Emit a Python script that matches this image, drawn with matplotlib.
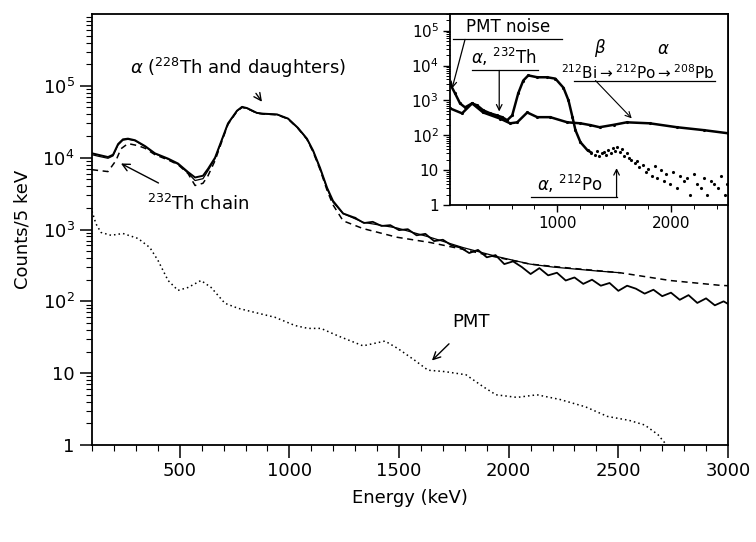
import matplotlib
matplotlib.use("Agg")
import matplotlib.pyplot as plt
from matplotlib.ticker import FixedLocator, LogLocator, MultipleLocator, NullFormatter
import numpy as np

plt.rcParams['font.family'] = ['DejaVu Sans']
plt.rcParams['mathtext.fontset'] = 'dejavusans'

# ---- main spectra (energy keV, counts / 5 keV) ----
meas_e = [100, 127, 173, 196, 219, 241, 264, 296, 342, 387, 447, 492, 538, 570, 606, 629,
          661, 688, 720, 761, 784, 807, 852, 880, 944, 994, 1039, 1080, 1108, 1140, 1172,
          1199, 1245, 1300]
meas_v = [11500, 11000, 10200, 11000, 15500, 18000, 18400, 17500, 14500, 11500, 9700,
          8300, 6300, 5300, 5600, 7000, 10000, 16500, 30000, 45000, 51000, 49000, 42000,
          41000, 40000, 35000, 26000, 18400, 12600, 7200, 3800, 2500, 1670, 1450]

# noisy tail of the measured spectrum
tail_e = [1300, 1340, 1380, 1420, 1460, 1500, 1540, 1580, 1620, 1660, 1700, 1740, 1780,
          1820, 1860, 1900, 1940, 1980, 2020, 2060, 2100, 2140, 2180, 2220, 2260, 2300,
          2340, 2380, 2420, 2460, 2500, 2540, 2580, 2620, 2660, 2700, 2740, 2780, 2820,
          2860, 2900, 2940, 2980, 3000]
tail_v = [1450, 1230, 1280, 1120, 1150, 980, 1010, 830, 870, 690, 720, 600, 560, 470, 520,
          410, 440, 330, 360, 300, 240, 290, 230, 250, 195, 215, 175, 200, 165, 180, 140,
          165, 150, 128, 145, 118, 132, 105, 122, 95, 110, 88, 100, 92]

sim_e = [100, 127, 173, 196, 219, 241, 264, 296, 342, 387, 447, 492, 538, 570, 606, 629,
         661, 688, 720, 761, 784, 807, 852, 880, 944, 994, 1039, 1080, 1108, 1140, 1172,
         1199, 1245, 1336, 1491, 1641, 1792, 1947, 2097, 2202, 2400, 2508]
sim_v = [11000, 10500, 9800, 10600, 15000, 17500, 18000, 17200, 14200, 11300, 9500, 8100,
         6100, 4800, 5100, 6600, 9700, 16200, 29500, 44500, 50500, 48500, 41800, 40800,
         39800, 34800, 25800, 18200, 12400, 7000, 3700, 2400, 1670, 1260, 1050, 780, 560,
         420, 330, 300, 265, 250]

dash_e = [100, 173, 209, 232, 264, 310, 342, 387, 447, 492, 538, 570, 606, 629, 661, 688,
          720, 761, 784, 807, 852, 880, 944, 994, 1039, 1080, 1108, 1140, 1172, 1199, 1245,
          1336, 1491, 1641, 1792, 1947, 2097, 2280, 2508, 2736, 2964, 3000]
dash_v = [6800, 6400, 9100, 13300, 15700, 14700, 13500, 11000, 9300, 8000, 6000, 4100,
          4400, 5600, 9100, 15500, 29000, 44000, 50000, 48500, 41500, 40500, 39500, 34500,
          25500, 18000, 12000, 6800, 3500, 2200, 1320, 1030, 780, 660, 530, 410, 330, 290,
          250, 195, 167, 165]

pmt_e = [100, 118, 141, 187, 241, 310, 364, 401, 447, 492, 538, 597, 643, 706, 766, 843,
         934, 1026, 1085, 1144, 1222, 1336, 1436, 1495, 1573, 1632, 1710, 1805, 1883, 1942,
         2038, 2129, 2234, 2350, 2450, 2550, 2620, 2680, 2720]
pmt_v = [1800, 1200, 910, 830, 880, 750, 560, 370, 195, 142, 156, 195, 156, 94, 80, 70,
         60, 46, 42, 42, 33, 24, 28, 22, 15, 11, 10.5, 9.5, 6.5, 5.0, 4.6, 5.0, 4.3, 3.4,
         2.5, 2.2, 1.9, 1.4, 1.0]

# ---- inset spectra ----
ina_e = [60, 104, 148, 192, 254, 298, 351, 413, 474, 518, 562, 606, 659, 703, 747, 826,
         914, 985, 1056, 1100, 1135, 1161, 1205, 1267, 1300]
ina_v = [3000, 1600, 820, 630, 820, 720, 520, 425, 370, 330, 270, 370, 1600, 3700, 5200,
         4600, 4600, 4200, 2300, 1000, 330, 140, 63, 37, 32]

ina_tail_e = [1330, 1350, 1370, 1390, 1410, 1430, 1450, 1470, 1490, 1510, 1530, 1550, 1570,
              1590, 1610, 1630, 1650, 1680, 1700, 1720, 1750, 1780, 1800, 1830, 1860,
              1880, 1910, 1940, 1960, 1990, 2020, 2050, 2080, 2110, 2140, 2170, 2200,
              2230, 2260, 2290, 2320, 2350, 2380, 2410, 2440, 2470, 2490]
ina_tail_v = [28, 35, 25, 30, 34, 27, 38, 31, 42, 36, 45, 33, 40, 26, 30, 22, 20, 16, 18,
              12, 14, 9, 11, 7, 13, 6, 10, 5, 8, 4, 9, 3, 7, 5, 6, 2, 8, 4, 3, 6, 2, 5, 4,
              3, 7, 2, 4]

inb_e = [60, 166, 254, 351, 500, 588, 650, 738, 826, 940, 1090, 1205, 1293, 1373, 1500,
         1611, 1813, 2051, 2289, 2500]
inb_v = [590, 425, 820, 450, 300, 220, 235, 450, 330, 330, 235, 220, 195, 170, 200, 235,
         220, 170, 140, 114]

main_yticks = [1, 10, 100, 1e3, 1e4, 1e5]
main_ylabels = ['1', '10', r'$10^2$', r'$10^3$', r'$10^4$', r'$10^5$']

fig = plt.figure(figsize=(7.56, 5.42), dpi=100)
ax = fig.add_axes([92 / 756, 1 - 445 / 542, (728 - 92) / 756, (445 - 14) / 542])

ax.plot(dash_e, dash_v, color='k', lw=1.1, ls=(0, (4, 3)))
ax.plot(sim_e, sim_v, color='k', lw=0.9)
ax.plot(meas_e, meas_v, color='k', lw=1.4)
ax.plot(tail_e, tail_v, color='k', lw=1.3)
ax.plot(pmt_e, pmt_v, color='k', lw=1.1, ls=(0, (1, 2)))

ax.set_yscale('log')
ax.set_xlim(100, 3000)
ax.set_ylim(1, 1e6)
ax.xaxis.set_major_locator(MultipleLocator(500))
ax.xaxis.set_minor_locator(MultipleLocator(100))
ax.yaxis.set_major_locator(FixedLocator(main_yticks))
ax.set_yticklabels(main_ylabels)
ax.yaxis.set_minor_locator(LogLocator(base=10, subs=np.arange(2, 10), numticks=20))
ax.yaxis.set_minor_formatter(NullFormatter())
ax.tick_params(which='both', direction='out', top=False, right=False, labelsize=13)
ax.tick_params(which='major', length=9, width=1.1)
ax.tick_params(which='minor', length=4, width=0.8)
for s in ax.spines.values():
    s.set_linewidth(1.3)
ax.set_xlabel('Energy (keV)', fontsize=13, labelpad=6)
ax.set_ylabel('Counts/5 keV', fontsize=13, labelpad=8)

ax.annotate(r'$\alpha$ ($^{228}$Th and daughters)', xy=(875, 6e4), xytext=(766, 1.75e5),
            ha='center', va='center', fontsize=13,
            arrowprops=dict(arrowstyle='->', color='k', lw=1, shrinkA=9, shrinkB=0))
ax.annotate(r'$^{232}$Th chain', xy=(232, 8300), xytext=(583, 2300),
            ha='center', va='center', fontsize=13,
            arrowprops=dict(arrowstyle='->', color='k', lw=1, shrinkA=12, shrinkB=0))
ax.annotate('PMT', xy=(1650, 15), xytext=(1828, 51),
            ha='center', va='center', fontsize=13,
            arrowprops=dict(arrowstyle='->', color='k', lw=1, shrinkA=10, shrinkB=0))

# ---- inset ----
ins = fig.add_axes([450 / 756, 1 - 205 / 542, (728 - 450) / 756, (205 - 14) / 542])
ins.plot(ina_e, ina_v, color='k', lw=1.8, marker='.', ms=2.5)
ins.plot(ina_tail_e, ina_tail_v, color='k', ls='none', marker='.', ms=2.5)
ins.plot(inb_e, inb_v, color='k', lw=1.8, marker='.', ms=2.5)
ins.set_yscale('log')
ins.set_xlim(60, 2500)
ins.set_ylim(1, 3e5)
ins.xaxis.set_major_locator(FixedLocator([1000, 2000]))
ins.xaxis.set_minor_locator(MultipleLocator(200))
ins.yaxis.set_major_locator(FixedLocator(main_yticks))
ins.set_yticklabels(main_ylabels)
ins.yaxis.set_minor_locator(LogLocator(base=10, subs=np.arange(2, 10), numticks=20))
ins.yaxis.set_minor_formatter(NullFormatter())
ins.tick_params(which='both', direction='out', top=False, right=False, labelsize=11,
                pad=3)
ins.tick_params(which='major', length=5, width=1)
ins.tick_params(which='minor', length=3, width=0.7)
for s in ins.spines.values():
    s.set_linewidth(1.3)

ins.text(571, 1.25e5, 'PMT noise', ha='center', va='center', fontsize=12)
ins.plot([86, 1047], [5.6e4, 5.6e4], color='k', lw=0.9)
ins.annotate('', xy=(78, 2200), xytext=(192, 5.6e4),
             arrowprops=dict(arrowstyle='->', color='k', lw=0.9, shrinkA=0, shrinkB=0))

ins.text(536, 1.8e4, r'$\alpha$, $^{232}$Th', ha='center', va='center', fontsize=12)
ins.plot([254, 835], [7200, 7200], color='k', lw=0.9)
ins.annotate('', xy=(492, 480), xytext=(492, 7200),
             arrowprops=dict(arrowstyle='->', color='k', lw=0.9, shrinkA=0, shrinkB=0))

ins.text(1708, 6300, r'$^{212}$Bi$\rightarrow^{212}$Po$\rightarrow^{208}$Pb',
         ha='center', va='center', fontsize=11)
ins.text(1373, 3.2e4, r'$\beta$', ha='center', va='center', fontsize=12)
ins.text(1936, 3.0e4, r'$\alpha$', ha='center', va='center', fontsize=12)
ins.plot([1144, 2386], [3700, 3700], color='k', lw=0.9)
ins.annotate('', xy=(1655, 305), xytext=(1337, 3700),
             arrowprops=dict(arrowstyle='->', color='k', lw=0.8, shrinkA=0, shrinkB=0))

ins.text(1108, 4, r'$\alpha$, $^{212}$Po', ha='center', va='center', fontsize=12)
ins.plot([774, 1522], [1.69, 1.69], color='k', lw=0.9)
ins.annotate('', xy=(1522, 11.4), xytext=(1522, 1.69),
             arrowprops=dict(arrowstyle='->', color='k', lw=0.9, shrinkA=0, shrinkB=0))

fig.savefig('out.png', dpi=100)
